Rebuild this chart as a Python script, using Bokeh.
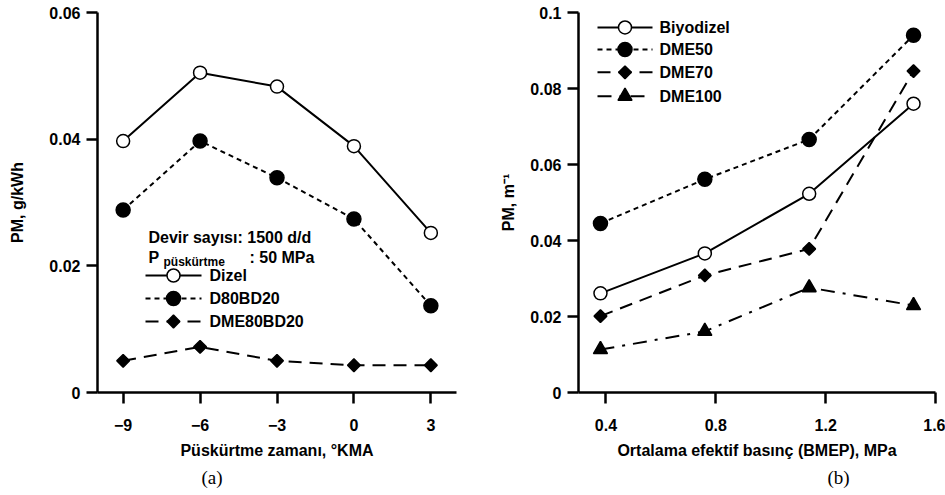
import math
from bokeh.plotting import figure
from bokeh.layouts import row
from bokeh.models import Label, FixedTicker
from bokeh.embed import file_html
from bokeh.resources import INLINE

# ---- Panel (a) data ----
inj_timing = [-9, -6, -3, 0, 3]
dizel = [0.0397, 0.0505, 0.0483, 0.0389, 0.0252]
d80bd20 = [0.0288, 0.0397, 0.0339, 0.0274, 0.0137]
dme80bd20 = [0.0050, 0.0072, 0.0050, 0.0043, 0.0043]
a_names = ["Dizel", "D80BD20", "DME80BD20"]
a_xticks = [-9, -6, -3, 0, 3]
a_yticks = [0, 0.02, 0.04, 0.06]
a_ylabels = ["0", "0.02", "0.04", "0.06"]

# ---- Panel (b) data ----
bmep = [0.38, 0.76, 1.14, 1.52]
biyodizel = [0.0261, 0.0366, 0.0523, 0.0760]
dme50 = [0.0445, 0.0561, 0.0666, 0.0940]
dme70 = [0.0201, 0.0308, 0.0378, 0.0846]
dme100 = [0.0113, 0.0161, 0.0276, 0.0229]
b_names = ["Biyodizel", "DME50", "DME70", "DME100"]
b_xticks = [0.4, 0.8, 1.2, 1.6]
b_xlabels = ["0.4", "0.8", "1.2", "1.6"]
b_yticks = [0, 0.02, 0.04, 0.06, 0.08, 0.1]
b_ylabels = ["0", "0.02", "0.04", "0.06", "0.08", "0.1"]

FONT = "Liberation Sans"
BLACK = "#000000"

# series styles: (dash, marker, size, fill, angle)
STY_SOLID = ("solid", "circle", 13, "white", 0.0)
STY_SHORT = ("5 4", "circle", 14, BLACK, 0.0)
STY_LONG = ("13 8", "square", 9, BLACK, math.pi / 4)
STY_DASHDOT = ("14 8 3 8", "triangle", 14, BLACK, 0.0)


def style(p, title, offset, ylab_standoff):
    p.outline_line_color = None
    p.xgrid.visible = False
    p.ygrid.visible = False
    p.background_fill_color = "white"
    p.border_fill_color = "white"
    for ax in (p.xaxis, p.yaxis):
        ax.axis_line_width = 2.5
        ax.axis_line_color = BLACK
        ax.major_tick_line_width = 2.5
        ax.major_tick_line_color = BLACK
        ax.major_tick_in = 0
        ax.major_tick_out = 11
        ax.minor_tick_line_color = None
        ax.major_label_text_font = FONT
        ax.major_label_text_font_style = "bold"
        ax.major_label_text_font_size = "16px"
        ax.major_label_text_color = BLACK
        ax.axis_label_text_font = FONT
        ax.axis_label_text_font_style = "bold"
        ax.axis_label_text_font_size = "16px"
        ax.axis_label_text_color = BLACK
    p.xaxis.major_label_standoff = 15
    p.yaxis.major_label_standoff = 6
    p.xaxis.axis_label_standoff = 8
    p.yaxis.axis_label_standoff = ylab_standoff
    p.title_location = "below"
    p.title.text = title
    p.title.align = "left"
    p.title.offset = offset
    p.title.text_font = "Liberation Serif"
    p.title.text_font_style = "normal"
    p.title.text_font_size = "19px"
    p.title.text_color = BLACK
    p.title.standoff = 6


def series(p, x, y, sty):
    dash, marker, size, fill, angle = sty
    p.line(x, y, line_color=BLACK, line_width=2, line_dash=dash)
    p.scatter(x, y, marker=marker, size=size, fill_color=fill,
              line_color=BLACK, line_width=1.5, angle=angle)


def manual_legend(p, to_data, names, styles, x0, x1, xlab, ys):
    """Legend samples placed at pixel positions (converted to data units)."""
    for name, sty, py in zip(names, styles, ys):
        dash, marker, size, fill, angle = sty
        dx0, dy = to_data(x0, py)
        dx1, _ = to_data(x1, py)
        dxc, _ = to_data((x0 + x1) / 2, py)
        dxl, _ = to_data(xlab, py)
        p.line([dx0, dx1], [dy, dy], line_color=BLACK, line_width=2, line_dash=dash)
        p.scatter([dxc], [dy], marker=marker, size=size, fill_color=fill,
                  line_color=BLACK, line_width=1.5, angle=angle)
        p.add_layout(Label(x=dxl, y=dy, text=name, text_font=FONT,
                           text_font_style="bold", text_font_size="16px",
                           text_color=BLACK, text_baseline="middle"))


# ---------------- Panel (a) ----------------
A_L, A_R, A_T, A_B = 97, 456, 12, 392
A_X, A_Y = (-10, 4), (0, 0.06)


def a_to_data(px, py):
    return (A_X[0] + (px - A_L) / (A_R - A_L) * (A_X[1] - A_X[0]),
            A_Y[0] + (A_B - py) / (A_B - A_T) * (A_Y[1] - A_Y[0]))


pa = figure(width=470, height=495, x_range=A_X, y_range=A_Y,
            output_backend="svg", toolbar_location=None,
            min_border_left=A_L, min_border_right=470 - A_R,
            min_border_top=A_T, min_border_bottom=495 - A_B)
style(pa, "(a)", 104, 20)
pa.xaxis.ticker = FixedTicker(ticks=a_xticks)
pa.yaxis.ticker = FixedTicker(ticks=a_yticks)
pa.yaxis.major_label_overrides = {t: s for t, s in zip(a_yticks, a_ylabels)}
pa.xaxis.axis_label = "Püskürtme zamanı, °KMA"
pa.yaxis.axis_label = "PM, g/kWh"

a_styles = [STY_SOLID, STY_SHORT, STY_LONG]
for vals, sty in zip([dizel, d80bd20, dme80bd20], a_styles):
    series(pa, inj_timing, vals, sty)
manual_legend(pa, a_to_data, a_names, a_styles, 145, 201, 209, [275, 298, 321])

txt = dict(text_font=FONT, text_font_style="bold", text_color=BLACK,
           text_baseline="alphabetic")
for px, py, t, fs in [(148, 237, "Devir sayısı: 1500 d/d", "16px"),
                      (148, 257, "P", "16px"),
                      (163, 261, "püskürtme", "12px"),
                      (249, 257, ": 50 MPa", "16px")]:
    dx, dy = a_to_data(px, py)
    pa.add_layout(Label(x=dx, y=dy, text=t, text_font_size=fs, **txt))

# ---------------- Panel (b) ----------------
B_L, B_R, B_T, B_B = 108, 465, 12, 393
B_X, B_Y = (0.3, 1.6), (0, 0.1)


def b_to_data(px, py):
    return (B_X[0] + (px - B_L) / (B_R - B_L) * (B_X[1] - B_X[0]),
            B_Y[0] + (B_B - py) / (B_B - B_T) * (B_Y[1] - B_Y[0]))


pb = figure(width=475, height=495, x_range=B_X, y_range=B_Y,
            output_backend="svg", toolbar_location=None,
            min_border_left=B_L, min_border_right=475 - B_R,
            min_border_top=B_T, min_border_bottom=495 - B_B)
style(pb, "(b)", 249, 10)
pb.xaxis.ticker = FixedTicker(ticks=b_xticks)
pb.xaxis.major_label_overrides = {t: s for t, s in zip(b_xticks, b_xlabels)}
pb.yaxis.ticker = FixedTicker(ticks=b_yticks)
pb.yaxis.major_label_overrides = {t: s for t, s in zip(b_yticks, b_ylabels)}
pb.xaxis.axis_label = "Ortalama efektif basınç (BMEP), MPa"
pb.yaxis.axis_label = "PM, m⁻¹"

b_styles = [STY_SOLID, STY_SHORT, STY_LONG, STY_DASHDOT]
for vals, sty in zip([biyodizel, dme50, dme70, dme100], b_styles):
    series(pb, bmep, vals, sty)
manual_legend(pb, b_to_data, b_names, b_styles, 597 - 470, 652 - 470, 659 - 470,
              [27, 49, 72, 96])

layout = row(pa, pb)
open("out.html", "w").write(file_html(layout, INLINE))
